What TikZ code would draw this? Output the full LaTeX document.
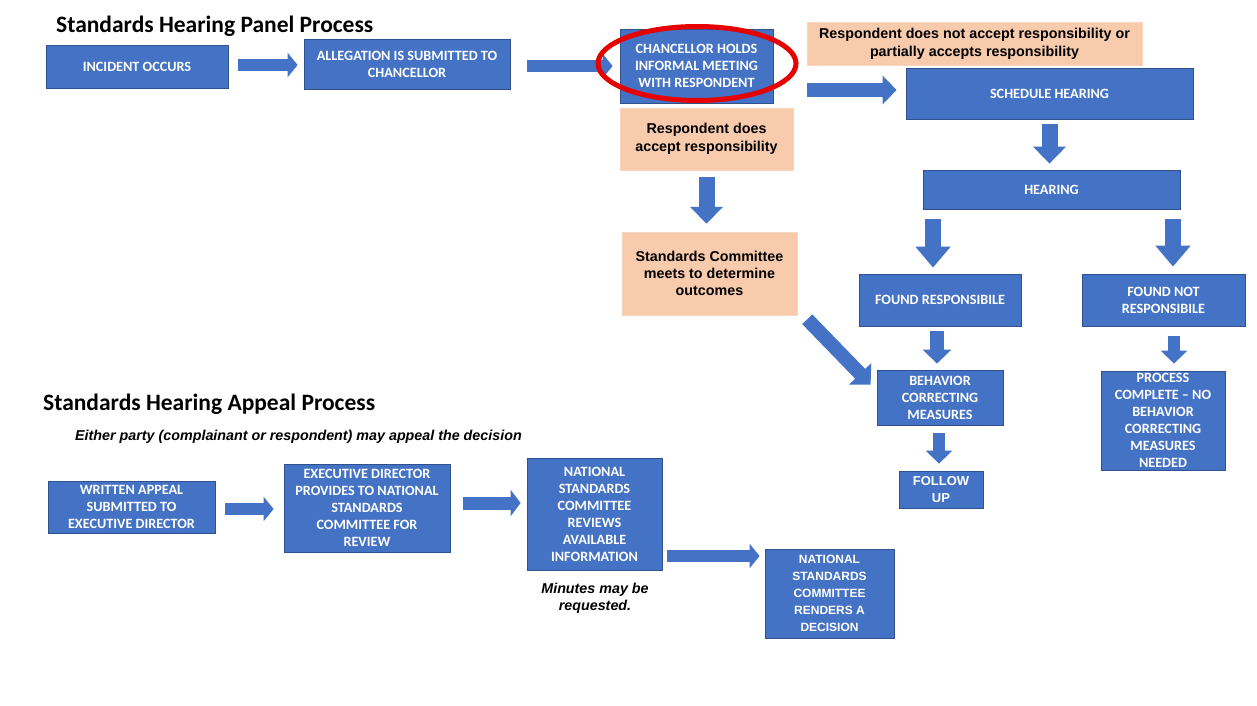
\documentclass[tikz,border=0pt]{standalone}
\usepackage{fontspec}
\setmainfont{Carlito}
\newfontfamily\arialf{Liberation Sans}
\usetikzlibrary{arrows.meta,shapes.geometric,calc}
\definecolor{boxblue}{HTML}{4472C4}
\definecolor{edgeblue}{HTML}{2F528F}
\definecolor{peach}{HTML}{F8CBAD}
\definecolor{ringred}{HTML}{E60000}
\tikzset{
  bbox/.style={draw=edgeblue, line width=0.8pt, fill=boxblue, text=white,
    font=\bfseries\fontsize{14.2}{17}\selectfont, align=center, inner sep=2pt},
  abox/.style={bbox, font=\arialf\bfseries\fontsize{12}{17}\selectfont},
  obox/.style={fill=peach, draw=peach!80!white, line width=0.5pt, text=black, align=center,
    inner sep=2pt, font=\arialf\bfseries\fontsize{14.3}{18}\selectfont},
  ttl/.style={anchor=west, inner sep=0pt, font=\bfseries\fontsize{23.5}{26}\selectfont},
  note/.style={inner sep=0pt, align=center, font=\arialf\bfseries\itshape\fontsize{14.3}{17}\selectfont},
  ba/.style={draw=boxblue, line width=12pt, -{Triangle[width=24pt,length=10pt]}},
  bt/.style={draw=boxblue, line width=12pt, -{Triangle[width=26pt,length=13pt]}},
  bc/.style={draw=boxblue, line width=14pt, -{Triangle[width=28pt,length=14pt]}},
  bb/.style={draw=boxblue, line width=16pt, -{Triangle[width=32pt,length=17pt]}},
  bd/.style={draw=boxblue, line width=16pt, -{Triangle[width=34pt,length=21pt]}},
}
\begin{document}
\begin{tikzpicture}[x=1pt,y=-1pt]
\fill[white] (0,0) rectangle (1257,706);
\useasboundingbox (0,0) rectangle (1257,706);

% titles
\node[ttl] (t1) at (56,26) {Standards Hearing Panel Process};
\node[ttl] (t2) at (43,404) {Standards Hearing Appeal Process};
\node[note, anchor=west] (sub) at (75,437) {Either party (complainant or respondent) may appeal the decision};

% top flow
\node[bbox, minimum width=182pt, minimum height=43pt] (inc) at (137,66.5) {INCIDENT OCCURS};
\node[bbox, minimum width=206pt, minimum height=50pt] (alleg) at (407,64) {ALLEGATION IS SUBMITTED TO\\CHANCELLOR};
\node[bbox, minimum width=153pt, minimum height=74pt] (chanc) at (696.5,66) {CHANCELLOR HOLDS\\INFORMAL MEETING\\WITH RESPONDENT};
\node[obox, minimum width=335pt, minimum height=43pt] (ornot) at (974.5,43.5) {Respondent does not accept responsibility or\\partially accepts responsibility};
\node[bbox, minimum width=287pt, minimum height=51pt] (sched) at (1049.5,93.5) {SCHEDULE HEARING};
\node[bbox, minimum width=257pt, minimum height=39pt] (hearing) at (1051.5,189.5) {HEARING};
\node[bbox, minimum width=162pt, minimum height=52pt] (foundr) at (940,300) {FOUND RESPONSIBILE};
\node[bbox, minimum width=163pt, minimum height=52pt] (foundnr) at (1163.5,300) {FOUND NOT\\RESPONSIBILE};
\node[bbox, minimum width=126pt, minimum height=55pt] (bcm) at (940,397.5) {BEHAVIOR\\CORRECTING\\MEASURES};
\node[abox, font=\arialf\bfseries\fontsize{13}{17}\selectfont, minimum width=84pt, minimum height=37pt] (follow) at (941,489.5) {FOLLOW\\UP};
\node[bbox, minimum width=124pt, minimum height=99pt] (pcomp) at (1163,420.5) {PROCESS\\COMPLETE -- NO\\BEHAVIOR\\CORRECTING\\MEASURES\\NEEDED};
\node[obox, minimum width=173pt, minimum height=62pt] (ordoes) at (706.5,139) {Respondent does\\accept responsibility};
\node[obox, font=\arialf\bfseries\fontsize{14.3}{17}\selectfont, minimum width=175pt, minimum height=83pt] (orsc) at (709.5,273.5) {Standards Committee\\meets to determine\\outcomes};

% appeal flow
\node[bbox, minimum width=167pt, minimum height=52pt] (wa) at (131.5,507) {WRITTEN APPEAL\\SUBMITTED TO\\EXECUTIVE DIRECTOR};
\node[bbox, minimum width=166pt, minimum height=88pt] (ed) at (367,508) {EXECUTIVE DIRECTOR\\PROVIDES TO NATIONAL\\STANDARDS\\COMMITTEE FOR\\REVIEW};
\node[bbox, minimum width=135pt, minimum height=112pt] (nsc) at (594.5,514) {NATIONAL\\STANDARDS\\COMMITTEE\\REVIEWS\\AVAILABLE\\INFORMATION};
\node[note] (minutes) at (595,598.5) {Minutes may be\\requested.};
\node[abox, minimum width=129pt, minimum height=89pt] (nsr) at (829.5,593.5) {NATIONAL\\STANDARDS\\COMMITTEE\\RENDERS A\\DECISION};

% block arrows
\draw[ba, shorten <=10pt, shorten >=6pt] ($(inc.east)+(0,-1.5)$) -- ($(alleg.west)+(0,1)$);
\draw[ba, shorten <=17pt, shorten >=7pt] ($(alleg.east)+(0,2)$) -- (chanc.west);
\draw[bc, shorten <=34pt, shorten >=9pt] ($(chanc.east)+(0,24)$) -- ($(sched.west)+(0,-3.5)$);
\draw[bb, shorten <=5pt, shorten >=6pt] (sched.south) -- (sched.south |- hearing.north);
\draw[bd, shorten <=10pt, shorten >=6pt] ($(hearing.south -| foundr.north)+(-7,0)$) -- ($(foundr.north)+(-7,0)$);
\draw[bd, shorten <=10pt, shorten >=7pt] ($(hearing.south -| foundnr.north)+(9.5,0)$) -- ($(foundnr.north)+(9.5,0)$);
\draw[bc, shorten <=5pt, shorten >=6pt] ($(foundr.south)+(-3,0)$) -- ($(bcm.north)+(-3,0)$);
\draw[bt, shorten <=8pt, shorten >=7pt] ($(bcm.south)+(-1,0)$) -- ($(follow.north)+(-2,0)$);
\draw[bt, shorten <=10pt, shorten >=7pt] ($(foundnr.south)+(10.5,0)$) -- ($(pcomp.north)+(11,0)$);
\draw[bb, shorten <=7pt, shorten >=8pt] (ordoes.south) -- ($(orsc.north)+(-3,0)$);
\draw[draw=boxblue, line width=14pt, -{Triangle[width=30pt,length=15pt]}] ($(orsc.south east)+(10,4)$) -- ($(bcm.north west)+(-6,15)$);
\draw[ba, shorten <=10pt, shorten >=10pt] ($(wa.east)+(0,2)$) -- ($(ed.west)+(0,1)$);
\draw[draw=boxblue, line width=13pt, -{Triangle[width=26pt,length=10pt]}, shorten <=13pt, shorten >=6pt] ($(ed.east)+(0,-5)$) -- ($(nsc.west)+(0,-11)$);
\draw[ba, shorten <=5pt, shorten >=5pt] ($(nsc.east)+(0,42)$) -- ($(nsr.west)+(0,-37.5)$);

% red ring
\node[ellipse, draw=ringred, line width=5pt, minimum width=198pt, minimum height=74pt, inner sep=0pt] (ring) at (697,63.5) {};
\end{tikzpicture}
\end{document}
